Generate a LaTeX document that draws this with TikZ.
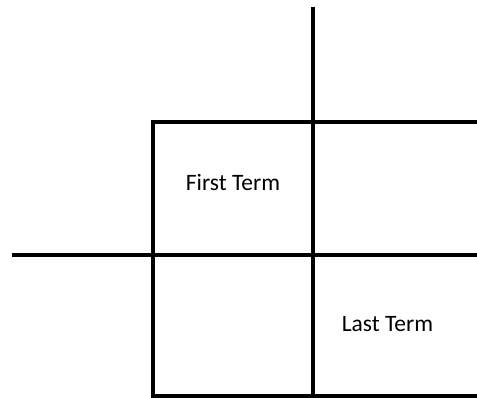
\documentclass[tikz,border=0pt]{standalone}
\usepackage{fontspec}
\setmainfont{Carlito}
\begin{document}
\begin{tikzpicture}[x=1pt,y=-1pt,
  gridline/.style={line width=4pt,line join=miter,draw=black},
  lbl/.style={font=\fontsize{23.5}{25}\selectfont,anchor=base,inner sep=0pt,text=black}]
\useasboundingbox (0,0) rectangle (477,398);
\clip (0,0) rectangle (477,398);
\fill[white] (0,0) rectangle (477,398);
\draw[gridline] (480,122) -- (153,122) -- (153,395.5) -- (480,395.5);
\draw[gridline] (313,7) -- (313,402);
\draw[gridline] (12,255.5) -- (480,255.5);
\node[lbl] (first) at (233,191) {First Term};
\node[lbl] (last) at (387.5,331) {Last Term};
\end{tikzpicture}
\end{document}
